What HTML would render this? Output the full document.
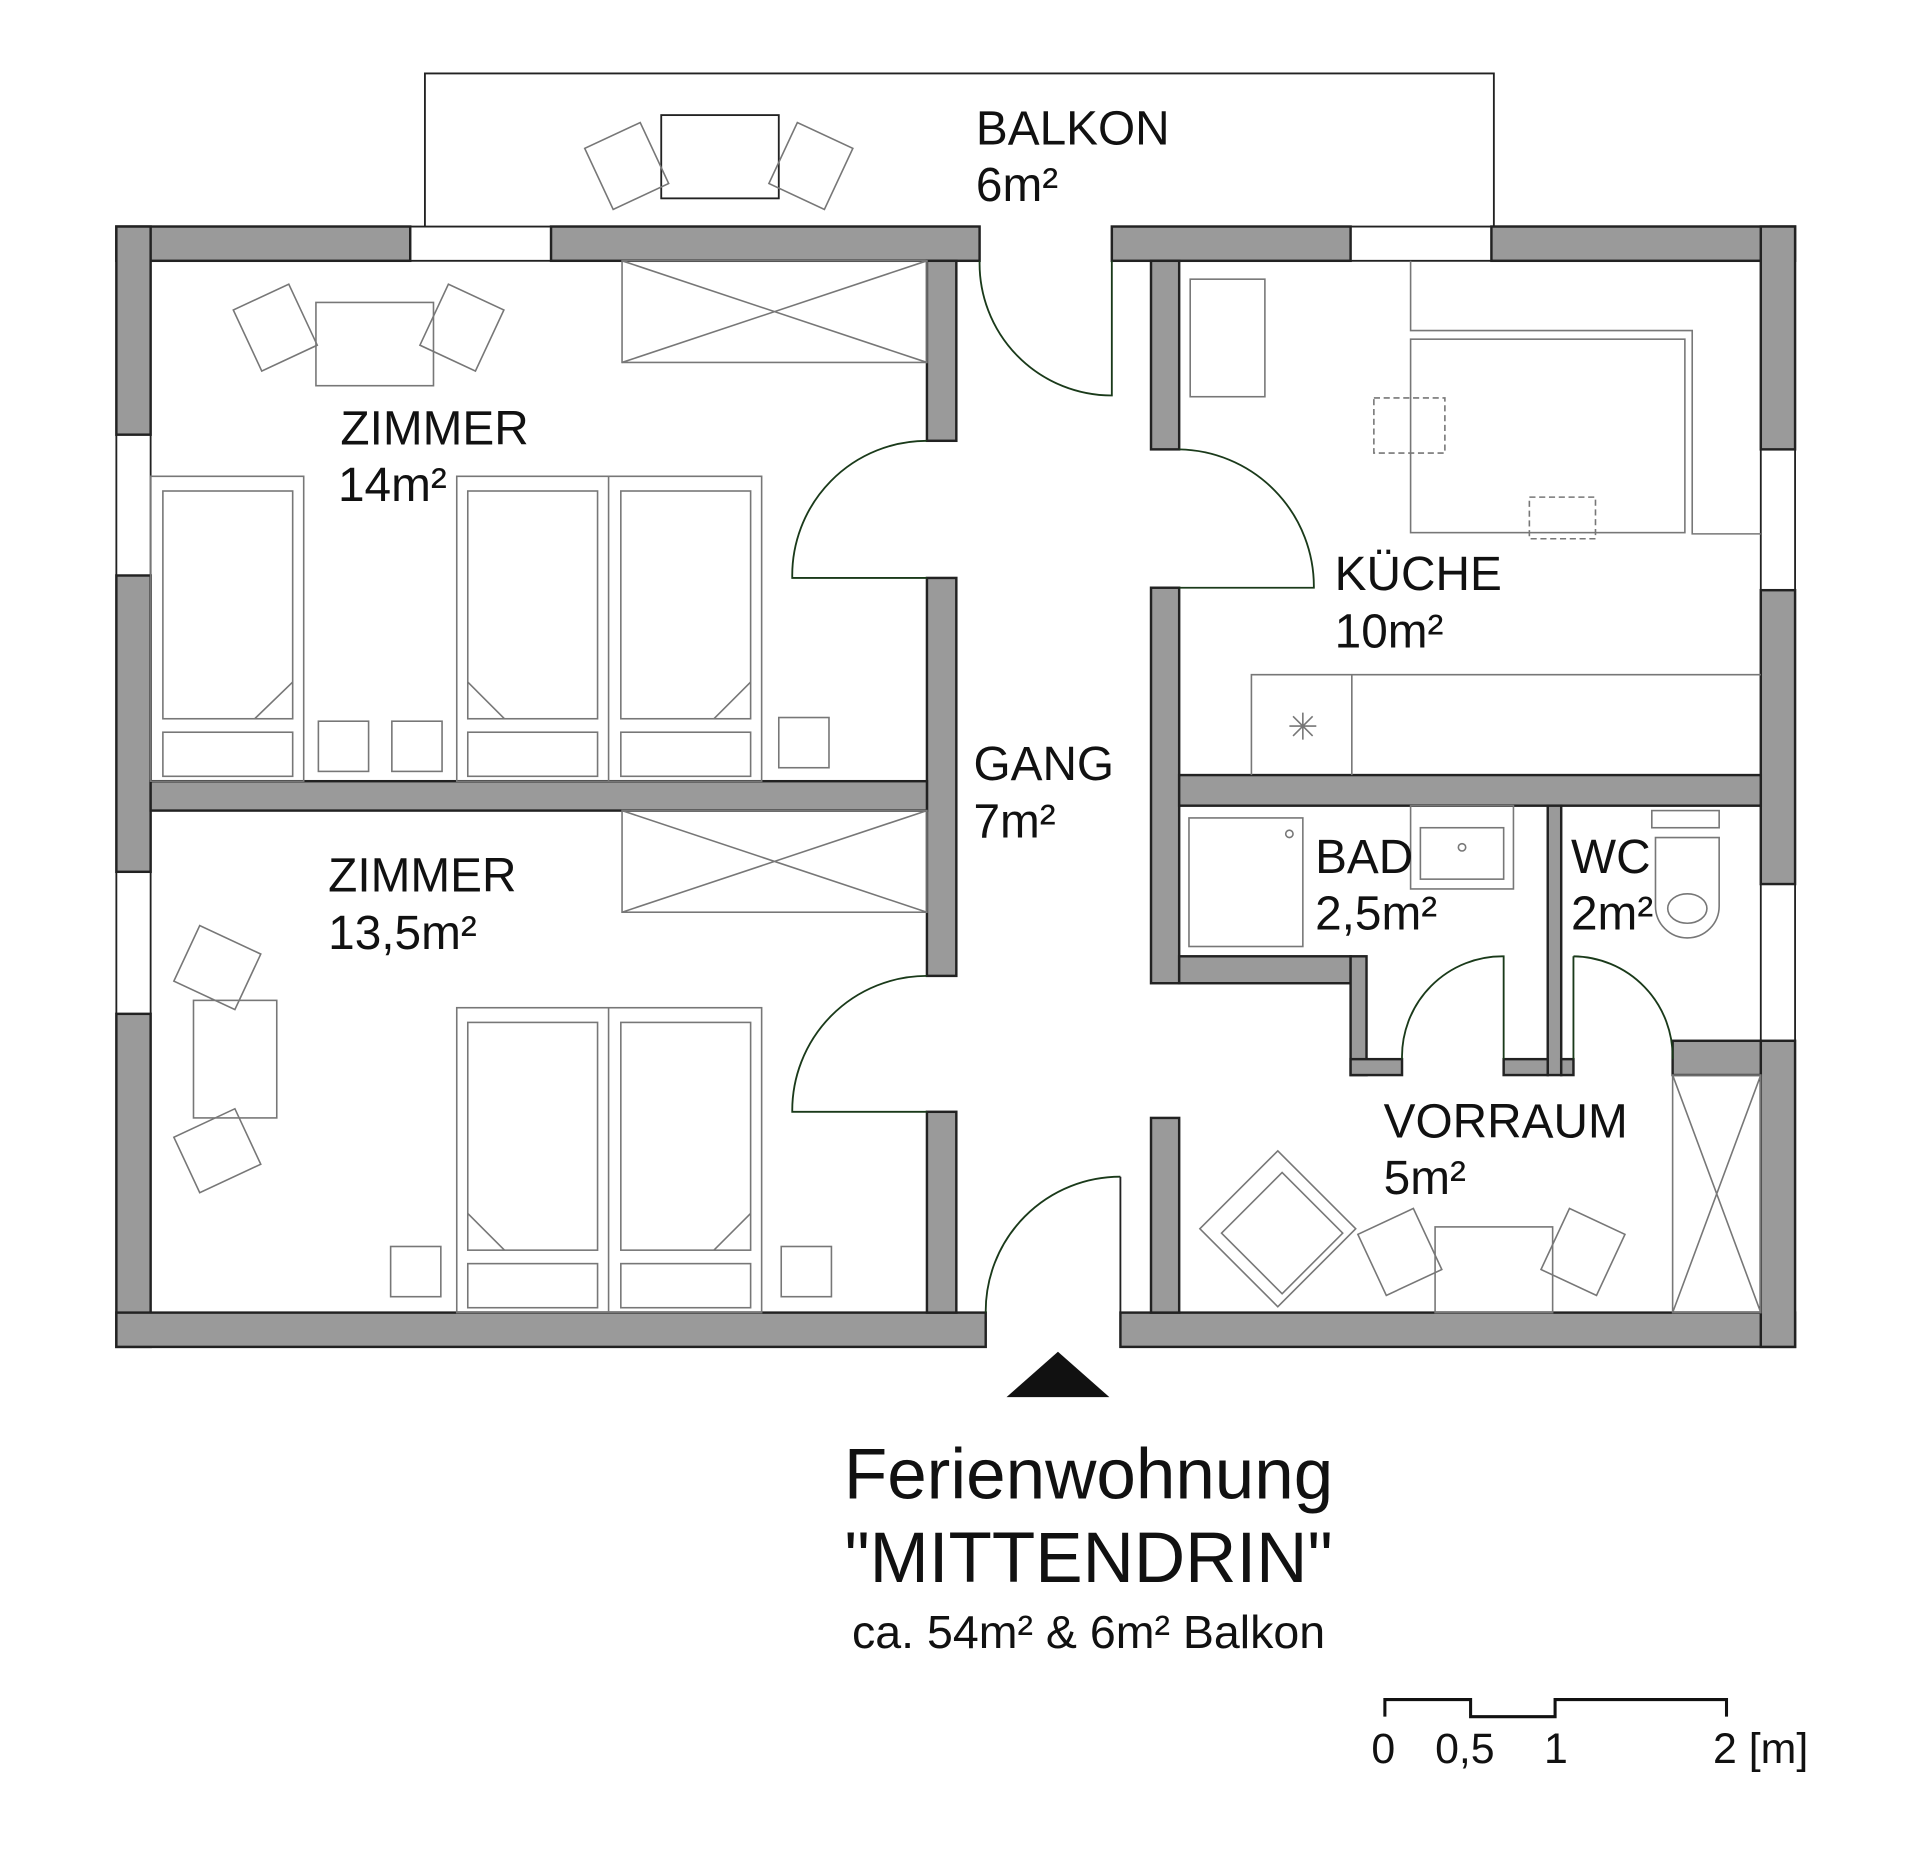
<!DOCTYPE html>
<html><head><meta charset="utf-8"><style>
html,body{margin:0;padding:0;background:#fff;}
svg{display:block;}
text{font-family:"Liberation Sans",sans-serif;fill:#111;}
</style></head><body>
<svg width="1920" height="1863" viewBox="0 0 1568 1521.5" xmlns="http://www.w3.org/2000/svg">
<g fill="#9a9a9a" stroke="#222" stroke-width="2">
<rect x="95" y="185" width="240" height="28"/>
<rect x="450" y="185" width="350" height="28"/>
<rect x="95" y="185" width="28" height="170"/>
<rect x="95" y="470" width="28" height="242"/>
<rect x="95" y="828" width="28" height="272"/>
<rect x="95" y="1072" width="710" height="28"/>
<rect x="915" y="1072" width="551" height="28"/>
<rect x="908" y="185" width="195" height="28"/>
<rect x="1218" y="185" width="248" height="28"/>
<rect x="1438" y="185" width="28" height="182"/>
<rect x="1438" y="482" width="28" height="240"/>
<rect x="1438" y="850" width="28" height="250"/>
<rect x="757" y="213" width="24" height="147"/>
<rect x="757" y="472" width="24" height="325"/>
<rect x="757" y="908" width="24" height="164"/>
<rect x="123" y="638" width="634" height="24"/>
<rect x="940" y="213" width="23" height="154"/>
<rect x="940" y="480" width="23" height="323"/>
<rect x="940" y="913" width="23" height="159"/>
<rect x="963" y="633" width="475" height="25"/>
<rect x="1264" y="658" width="11" height="220"/>
<rect x="963" y="781" width="140" height="22"/>
<rect x="1103" y="781" width="13" height="97"/>
<rect x="1103" y="865" width="42" height="13"/>
<rect x="1228" y="865" width="36" height="13"/>
<rect x="1275" y="865" width="10" height="13"/>
<rect x="1366" y="850" width="72" height="28"/>
</g>
<g fill="none" stroke="#222" stroke-width="1.5">
<path d="M335 185H450M335 213H450M95 355V470M123 355V470M95 712V828M123 712V828M1103 185H1218M1103 213H1218M1438 367V482M1466 367V482M1438 722V850M1466 722V850"/>
<path d="M347 185V60H1220V185"/>
<rect x="540" y="94" width="96" height="68"/>
<path d="M800 213A108 108 0 0 0 908 323V213" stroke="#1a3a1a"/>
<path d="M757 360A110 110 0 0 0 647 472H757" stroke="#1a3a1a"/>
<path d="M757 797A110 110 0 0 0 647 908H757" stroke="#1a3a1a"/>
<path d="M963 367A112 112 0 0 1 1073 480H963" stroke="#1a3a1a"/>
<path d="M915 961A110 110 0 0 0 805 1072" stroke="#1a3a1a"/>
<path d="M915 961V1072"/>
<path d="M1145 865A82 82 0 0 1 1228 781V865" stroke="#1a3a1a"/>
<path d="M1285 781A82 82 0 0 1 1366 865M1285 781V865" stroke="#1a3a1a"/>
</g>
<g fill="none" stroke="#777" stroke-width="1.3">
<rect x="508" y="213" width="249" height="83"/><path d="M508 213L757 296M508 296L757 213"/>
<rect x="508" y="662" width="249" height="83"/><path d="M508 662L757 745M508 745L757 662"/>
<rect x="1366" y="878" width="72" height="194"/><path d="M1366 878L1438 1072M1438 878L1366 1072"/>
<rect x="258" y="247" width="96" height="68"/>
<rect x="200" y="240" width="50" height="55" transform="rotate(-25 225 268)"/>
<rect x="352" y="240" width="50" height="55" transform="rotate(25 377 268)"/>
<rect x="487" y="108" width="50" height="55" transform="rotate(-25 512 136)"/>
<rect x="637" y="108" width="50" height="55" transform="rotate(25 662 136)"/>
<rect x="123" y="389" width="125" height="249"/><rect x="133" y="401" width="106" height="186"/><rect x="133" y="598" width="106" height="36"/><path d="M208 587L239 557"/>
<rect x="373" y="389" width="249" height="249"/><path d="M497 389V638"/>
<rect x="382" y="401" width="106" height="186"/><rect x="382" y="598" width="106" height="36"/><path d="M382 557L412 587"/>
<rect x="507" y="401" width="106" height="186"/><rect x="507" y="598" width="106" height="36"/><path d="M583 587L613 557"/>
<rect x="260" y="589" width="41" height="41"/><rect x="320" y="589" width="41" height="41"/><rect x="636" y="586" width="41" height="41"/>
<rect x="158" y="817" width="68" height="96"/>
<rect x="150" y="765" width="55" height="50" transform="rotate(25 177 790)"/>
<rect x="150" y="915" width="55" height="50" transform="rotate(-25 177 940)"/>
<rect x="373" y="823" width="249" height="249"/><path d="M497 823V1072"/>
<rect x="382" y="835" width="106" height="186"/><rect x="382" y="1032" width="106" height="36"/><path d="M382 991L412 1021"/>
<rect x="507" y="835" width="106" height="186"/><rect x="507" y="1032" width="106" height="36"/><path d="M583 1021L613 991"/>
<rect x="319" y="1018" width="41" height="41"/><rect x="638" y="1018" width="41" height="41"/>
<rect x="972" y="228" width="61" height="96"/>
<path d="M1152 213V270H1382V436H1438"/>
<rect x="1152" y="277" width="224" height="158"/>
<path d="M1022 633V551H1438M1104 551V633"/>
<path d="M1053 593H1075M1064 582V604M1056 585L1072 601M1072 585L1056 601"/>
<path d="M1122 325H1180V370H1122Z" stroke-dasharray="5 3"/>
<path d="M1249 406H1303V440H1249Z" stroke-dasharray="5 3"/>
<rect x="971" y="668" width="93" height="105"/><circle cx="1053" cy="681" r="3"/>
<rect x="1152" y="658" width="84" height="68"/><rect x="1160" y="676" width="68" height="42"/><circle cx="1194" cy="692" r="3"/>
<rect x="1349" y="662" width="55" height="14"/>
<path d="M1352 684H1404V740A26 26 0 0 1 1352 740Z"/><ellipse cx="1378" cy="742" rx="16" ry="12"/>
<rect x="1000" y="955" width="90" height="90" transform="rotate(45 1040 1000)"/>
<rect x="1015" y="965" width="70" height="70" transform="rotate(45 1040 1000)"/>
<rect x="1172" y="1002" width="96" height="70"/>
<rect x="1118" y="995" width="50" height="55" transform="rotate(-25 1143 1022)"/>
<rect x="1268" y="995" width="50" height="55" transform="rotate(25 1293 1022)"/>
</g>
<polygon points="822,1141 906,1141 864,1104" fill="#111"/>
<g font-size="39">
<text x="797" y="118">BALKON</text><text x="797" y="164">6m²</text>
<text x="278" y="363">ZIMMER</text><text x="276" y="409">14m²</text>
<text x="268" y="728">ZIMMER</text><text x="268" y="775">13,5m²</text>
<text x="795" y="637">GANG</text><text x="795" y="684">7m²</text>
<text x="1090" y="482">KÜCHE</text><text x="1090" y="529">10m²</text>
<text x="1074" y="713">BAD</text><text x="1074" y="759">2,5m²</text>
<text x="1283" y="713">WC</text><text x="1283" y="759">2m²</text>
<text x="1130" y="929">VORRAUM</text><text x="1130" y="975">5m²</text>
</g>
<text x="889" y="1224" font-size="58" text-anchor="middle">Ferienwohnung</text>
<text x="889" y="1292" font-size="58" text-anchor="middle">"MITTENDRIN"</text>
<text x="889" y="1346" font-size="38" text-anchor="middle">ca. 54m² &amp; 6m² Balkon</text>
<path d="M1131 1402V1388H1201V1402H1270V1388H1410V1402" fill="none" stroke="#111" stroke-width="2.5"/>
<g font-size="35"><text x="1120" y="1440">0</text><text x="1172" y="1440">0,5</text><text x="1261" y="1440">1</text><text x="1399" y="1440">2 [m]</text></g>
</svg>
</body></html>
